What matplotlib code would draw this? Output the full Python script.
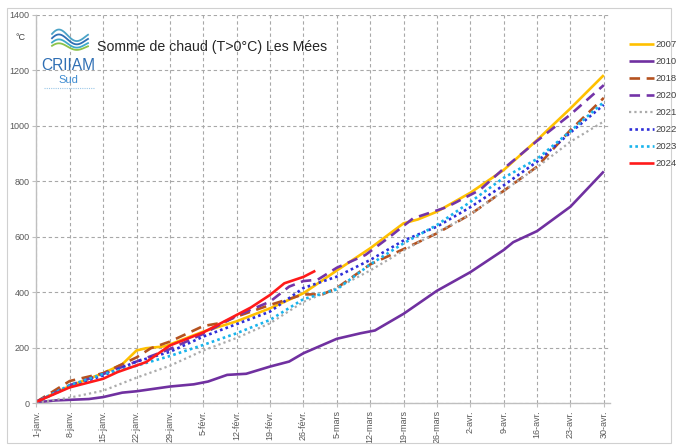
import matplotlib
matplotlib.use("Agg")
import matplotlib.pyplot as plt
import numpy as np
from matplotlib.lines import Line2D
from matplotlib.patches import Rectangle

# ---- data (day index from 1 Jan, cumulative degree-days) ----
tick_labels = ["1-janv.", "8-janv.", "15-janv.", "22-janv.", "29-janv.", "5-févr.",
               "12-févr.", "19-févr.", "26-févr.", "5-mars", "12-mars", "19-mars",
               "26-mars", "2-avr.", "9-avr.", "16-avr.", "23-avr.", "30-avr."]

days_2007 = [0, 7, 14, 18, 21, 23, 27, 35, 42, 49, 56, 63, 70, 77, 80, 84, 91, 98, 105, 112, 119]
vals_2007 = [5, 62, 108, 140, 190, 198, 205, 258, 295, 342, 396, 478, 558, 648, 662, 690, 758, 840, 948, 1062, 1182]

days_2010 = [0, 4, 11, 14, 18, 21, 28, 33, 36, 40, 44, 49, 53, 56, 63, 68, 71, 77, 84, 91, 98, 100, 105, 112, 119]
vals_2010 = [3, 10, 15, 22, 38, 43, 60, 68, 78, 102, 106, 132, 150, 180, 232, 252, 262, 322, 405, 472, 552, 580, 620, 708, 835]

days_2018 = [0, 7, 14, 21, 24, 28, 35, 39, 42, 49, 56, 60, 63, 70, 77, 84, 91, 98, 105, 112, 119]
vals_2018 = [5, 80, 108, 165, 198, 222, 278, 290, 312, 354, 392, 392, 415, 500, 555, 612, 680, 765, 852, 984, 1100]

days_2020 = [0, 7, 14, 21, 28, 35, 42, 49, 53, 56, 59, 63, 69, 74, 79, 86, 93, 98, 105, 112, 119]
vals_2020 = [5, 65, 105, 150, 195, 250, 315, 366, 420, 440, 445, 488, 534, 598, 666, 706, 768, 845, 945, 1040, 1146]

days_2021 = [0, 7, 14, 21, 28, 35, 42, 49, 56, 63, 70, 77, 84, 91, 98, 105, 112, 119]
vals_2021 = [2, 20, 45, 92, 135, 190, 235, 288, 365, 415, 478, 550, 615, 680, 765, 850, 942, 1015]

days_2022 = [0, 7, 14, 21, 28, 35, 42, 49, 56, 63, 70, 77, 84, 91, 98, 105, 112, 119]
vals_2022 = [5, 60, 100, 150, 185, 240, 285, 330, 415, 456, 516, 586, 636, 706, 785, 870, 975, 1075]

days_2023 = [0, 7, 14, 21, 28, 35, 42, 49, 56, 63, 70, 77, 84, 91, 98, 105, 112, 119]
vals_2023 = [5, 65, 105, 135, 170, 210, 252, 300, 375, 410, 500, 576, 642, 725, 812, 880, 980, 1085]

days_2024 = [0, 7, 14, 17, 21, 23, 28, 35, 42, 45, 49, 52, 56, 58.5]
vals_2024 = [5, 57, 88, 112, 136, 148, 208, 255, 318, 345, 390, 432, 455, 477]

series = [
    ("2007", days_2007, vals_2007, "#FFC000", "-", 1.9),
    ("2010", days_2010, vals_2010, "#7030A0", "-", 1.9),
    ("2018", days_2018, vals_2018, "#B5521F", (0, (4, 2.5)), 1.9),
    ("2020", days_2020, vals_2020, "#7434A8", (0, (4, 2.5)), 1.9),
    ("2021", days_2021, vals_2021, "#ABABAB", (0, (1, 1.4)), 1.6),
    ("2022", days_2022, vals_2022, "#2E2ED8", (0, (1, 1.2)), 1.9),
    ("2023", days_2023, vals_2023, "#19B4EC", (0, (1, 1.2)), 1.9),
    ("2024", days_2024, vals_2024, "#FF1A1A", "-", 1.9),
]

W, H = 678, 445
fig = plt.figure(figsize=(W / 100, H / 100), dpi=100)
plt.rcParams['font.family'] = ['Liberation Sans', 'DejaVu Sans']

# outer chart border
fig.patches.append(Rectangle((7 / W, 1 - 443 / H), 664 / W, 435 / H, transform=fig.transFigure,
                             fill=False, edgecolor="#D0D0D0", linewidth=0.8))

left, right = 36.4 / W, 610 / W
bottom, top = 1 - 403.2 / H, 1 - 14.6 / H
ax = fig.add_axes([left, bottom, right - left, top - bottom])

for name, d, v, c, ls, lw in series:
    ax.plot(d, v, color=c, linestyle=ls, linewidth=lw, label=name, solid_capstyle="butt")

ax.set_xlim(0, 120.3)
ax.set_ylim(0, 1400)
ax.set_xticks(np.arange(0, 120, 7))
ax.set_xticklabels(tick_labels, rotation=90, fontsize=6.5, color="#595959")
ax.set_yticks(np.arange(0, 1401, 200))
ax.set_yticklabels([str(t) for t in range(0, 1401, 200)], fontsize=6.5, color="#595959")
ax.tick_params(axis="both", length=3, color="#BFBFBF", width=0.8, pad=2)
ax.grid(True, color="#A8A8A8", linestyle=(0, (3, 2.5)), linewidth=0.8)
ax.set_axisbelow(True)
for s in ["top", "right"]:
    ax.spines[s].set_visible(False)
for s in ["left", "bottom"]:
    ax.spines[s].set_color("#BFBFBF")
    ax.spines[s].set_linewidth(1.0)

# texts
fig.text(20 / W, 1 - 38 / H, "°C", fontsize=6.5, color="#404040", ha="center", va="center")
fig.text(97 / W, 1 - 47 / H, "Somme de chaud (T>0°C) Les Mées", fontsize=10.2, color="#262626",
         ha="left", va="center")

# logo
fig.text(68 / W, 1 - 66 / H, "CRIIAM", fontsize=11.2, color="#2F6FB4", ha="center", va="center")
fig.text(68 / W, 1 - 80 / H, "Sud", fontsize=8, color="#3D8BD0", ha="center", va="center")
t = np.linspace(0, 1, 80)
for (amp, off, col) in [(7, -4, "#4BA3C7"), (6, 0, "#2F6FB4"), (5, 4, "#3FA9C9"), (4, 7, "#8BC34A")]:
    xs = 52 + 36 * t
    ys = 40 + off - amp * np.sin(np.pi * 2 * t + 0.3) * (1 - t * 0.4)
    fig.add_artist(Line2D(xs / W, 1 - ys / H, color=col, linewidth=1.3, transform=fig.transFigure))
fig.add_artist(Line2D([44 / W, 94 / W], [1 - 88 / H, 1 - 88 / H], color="#9CC8E8",
                      linewidth=0.8, linestyle=(0, (1, 1)), transform=fig.transFigure))

# legend
fig.legend(loc="upper left", bbox_to_anchor=(629 / W, 1 - 40 / H), frameon=False,
           fontsize=6.8, handlelength=2.6, handletextpad=0.25, labelspacing=0.85,
           borderaxespad=0, borderpad=0, labelcolor="#404040")

fig.savefig("out.png", dpi=100)
